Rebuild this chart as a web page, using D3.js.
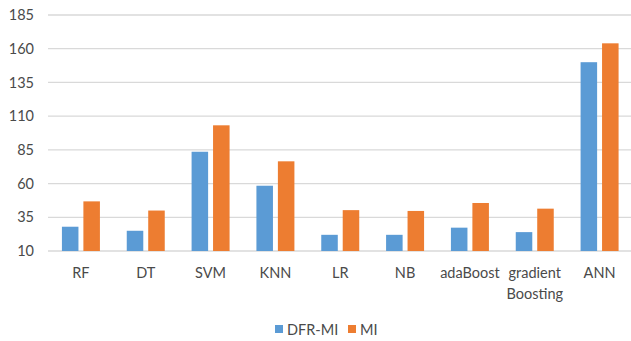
<!DOCTYPE html>
<html><head><meta charset="utf-8">
<script src="https://cdn.jsdelivr.net/npm/d3@7"></script>
<style>
html,body{margin:0;padding:0;background:#fff;}
svg text{font-family:Lato,"Open Sans",sans-serif;fill:#4a4a4a;}
</style></head>
<body><svg id="c" width="631" height="341"></svg>
<script>
const categories = ["RF","DT","SVM","KNN","LR","NB","adaBoost","gradient Boosting","ANN"];
const seriesNames = ["DFR-MI","MI"];
const dfrMI = [28, 25, 83.6, 58.4, 22, 22, 27.3, 24, 150];
const mi = [46.8, 40, 103.2, 76.5, 40.3, 39.7, 45.6, 41.4, 164];
const yTicks = [10,35,60,85,110,135,160,185];
const colors = ["#5B9BD5","#ED7D31"];

const svg = d3.select("#c");
const x = d3.scaleBand().domain(categories).range([48.5, 632]).paddingInner(0.414).paddingOuter(0.207);
const xs = d3.scaleBand().domain(seriesNames).range([0, x.bandwidth()]).paddingInner(0.23);
const y = d3.scaleLinear().domain([10,185]).range([251, 15]);

// gridlines
svg.append("g").selectAll("line").data(yTicks).join("line")
  .attr("x1", 48).attr("x2", 631)
  .attr("y1", d=>y(d)).attr("y2", d=>y(d))
  .attr("stroke", "#D9D9D9").attr("stroke-width", 1.3);

// y axis labels
const yAxis = d3.axisLeft(y).tickValues(yTicks).tickSize(0).tickPadding(0);
const ya = svg.append("g").attr("transform","translate(34,0)").call(yAxis);
ya.select(".domain").remove();
ya.selectAll("text").attr("font-size",14.5).style("font-family","Lato").attr("fill","#4a4a4a");

// bars
const data = categories.map((c,i)=>({c, vals:[dfrMI[i], mi[i]]}));
const g = svg.append("g").selectAll("g").data(data).join("g")
  .attr("transform", d=>`translate(${x(d.c)},0)`);
g.selectAll("rect").data(d=>d.vals.map((v,j)=>({s:seriesNames[j], v, j}))).join("rect")
  .attr("x", d=>xs(d.s)).attr("width", xs.bandwidth())
  .attr("y", d=>y(d.v)).attr("height", d=>y(10)-y(d.v))
  .attr("fill", d=>colors[d.j]);

// x labels
const xl = svg.append("g").selectAll("text").data(categories).join("text")
  .attr("x", d=>x(d)+x.bandwidth()/2).attr("y", 278)
  .attr("text-anchor","middle").attr("font-size",14.5);
xl.each(function(d){
  const words = d.split(" ");
  const t = d3.select(this);
  words.forEach((w,i)=>t.append("tspan").attr("x", x(d)+x.bandwidth()/2).attr("dy", i===0?0:20.5).text(w));
});

// legend
const leg = svg.append("g");
const legItems = [{n:"DFR-MI",c:colors[0],x:275},{n:"MI",c:colors[1],x:348}];
legItems.forEach(it=>{
  leg.append("rect").attr("x",it.x).attr("y",325).attr("width",8).attr("height",8).attr("fill",it.c);
  leg.append("text").attr("x",it.x+12).attr("y",335).attr("font-size",14.5).text(it.n);
});
</script></body></html>
